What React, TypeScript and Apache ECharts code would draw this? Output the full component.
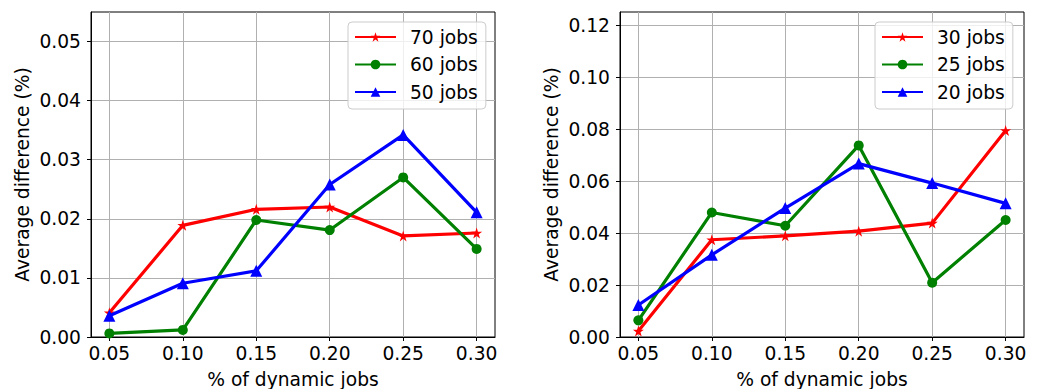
import React, { useEffect, useRef } from "react";
import * as echarts from "echarts";

const xValues = [0.05, 0.1, 0.15, 0.2, 0.25, 0.3];
const xTicks = [0.05, 0.1, 0.15, 0.2, 0.25, 0.3];

const leftNames = ["70 jobs", "60 jobs", "50 jobs"];
const jobs70 = [0.0041, 0.0189, 0.0216, 0.022, 0.0171, 0.0176];
const jobs60 = [0.0006, 0.0012, 0.0198, 0.0181, 0.027, 0.0149];
const jobs50 = [0.0036, 0.0091, 0.0112, 0.0258, 0.0342, 0.0211];
const leftYTicks = [0, 0.01, 0.02, 0.03, 0.04, 0.05];

const rightNames = ["30 jobs", "25 jobs", "20 jobs"];
const jobs30 = [0.0023, 0.0374, 0.0389, 0.0407, 0.0438, 0.0794];
const jobs25 = [0.0064, 0.0479, 0.0428, 0.0737, 0.0209, 0.045];
const jobs20 = [0.0123, 0.0316, 0.0496, 0.0667, 0.0592, 0.0514];
const rightYTicks = [0, 0.02, 0.04, 0.06, 0.08, 0.1, 0.12];

const xName = "% of dynamic jobs";
const yName = "Average difference (%)";

const STAR =
  "path://M50,0 L61.2,34.5 L97.6,34.5 L68.2,55.9 L79.4,90.5 L50,69.1 L20.6,90.5 L31.8,55.9 L2.4,34.5 L38.8,34.5 Z";

const FONT = "DejaVu Sans";
const FS = 18.67;
const colors = ["#ff0000", "#008000", "#0000ff"];
const symbols = [STAR, "circle", "triangle"];
const symbolSizes = [11, 10, 12];

export default function App() {
  const ref = useRef<HTMLDivElement>(null);
  useEffect(() => {
    if (!ref.current) return;
    const chart = echarts.init(ref.current, undefined, { renderer: "svg" });

    const grids = [
      { left: 91, top: 12, width: 404, height: 325 },
      { left: 620, top: 12, width: 404, height: 325 },
    ];

    const makeX = (gi: number) => ({
      type: "value",
      gridIndex: gi,
      min: 0.0375,
      max: 0.3125,
      name: xName,
      nameLocation: "middle",
      nameGap: 33,
      nameTextStyle: { fontFamily: FONT, fontSize: FS, color: "#000" },
      axisLine: { show: true, onZero: false, lineStyle: { color: "#000", width: 1 } },
      axisTick: {
        show: true,
        inside: false,
        length: 4,
        customValues: xTicks,
        lineStyle: { color: "#000", width: 1 },
      },
      axisLabel: {
        show: true,
        margin: 7,
        customValues: xTicks,
        fontFamily: FONT,
        fontSize: FS,
        color: "#000",
        formatter: (v: number) => v.toFixed(2),
      },
      splitLine: { show: true, lineStyle: { color: "#b0b0b0", width: 1 } },
    });

    const makeY = (gi: number, max: number, ticks: number[]) => ({
      type: "value",
      gridIndex: gi,
      min: 0,
      max,
      name: yName,
      nameLocation: "middle",
      nameGap: 59,
      nameTextStyle: { fontFamily: FONT, fontSize: FS, color: "#000" },
      axisLine: { show: true, lineStyle: { color: "#000", width: 1 } },
      axisTick: {
        show: true,
        inside: false,
        length: 4,
        customValues: ticks,
        lineStyle: { color: "#000", width: 1 },
      },
      axisLabel: {
        show: true,
        margin: 10,
        customValues: ticks,
        fontFamily: FONT,
        fontSize: FS,
        color: "#000",
        formatter: (v: number) => v.toFixed(2),
      },
      splitLine: { show: true, lineStyle: { color: "#b0b0b0", width: 1 } },
    });

    const makeSeries = (name: string, vals: number[], i: number, gi: number) => ({
      type: "line",
      name,
      xAxisIndex: gi,
      yAxisIndex: gi,
      data: xValues.map((x, k) => [x, vals[k]]),
      symbol: symbols[i],
      symbolSize: symbolSizes[i],
      showSymbol: true,
      lineStyle: { color: colors[i], width: 3.2 },
      itemStyle: { color: colors[i] },
      emphasis: { disabled: true },
      z: 2 + i,
    });

    const makeLegend = (names: string[], left: number) => ({
      data: names,
      orient: "vertical",
      left,
      top: 22,
      padding: [4, 8, 6, 6],
      itemWidth: 41,
      itemHeight: 12,
      itemGap: 5.5,
      backgroundColor: "rgba(255,255,255,0.8)",
      borderColor: "#cccccc",
      borderWidth: 1,
      borderRadius: 4,
      selectedMode: false,
      textStyle: {
        fontFamily: FONT,
        fontSize: FS,
        color: "#000",
        lineHeight: 22,
        padding: [0, 0, 0, 9],
      },
    });

    chart.setOption({
      animation: false,
      grid: grids.map((g) => ({
        ...g,
        show: true,
        borderColor: "#000",
        borderWidth: 1,
        backgroundColor: "transparent",
        containLabel: false,
        outerBoundsMode: "none",
      })),
      xAxis: [makeX(0), makeX(1)],
      yAxis: [makeY(0, 0.055, leftYTicks), makeY(1, 0.125, rightYTicks)],
      legend: [makeLegend(leftNames, 348), makeLegend(rightNames, 875)],
      series: [
        makeSeries(leftNames[0], jobs70, 0, 0),
        makeSeries(leftNames[1], jobs60, 1, 0),
        makeSeries(leftNames[2], jobs50, 2, 0),
        makeSeries(rightNames[0], jobs30, 0, 1),
        makeSeries(rightNames[1], jobs25, 1, 1),
        makeSeries(rightNames[2], jobs20, 2, 1),
      ],
    });
    return () => chart.dispose();
  }, []);

  return (
    <div
      ref={ref}
      style={{ position: "fixed", left: 0, top: 0, width: 1041, height: 389, background: "#fff" }}
    />
  );
}
